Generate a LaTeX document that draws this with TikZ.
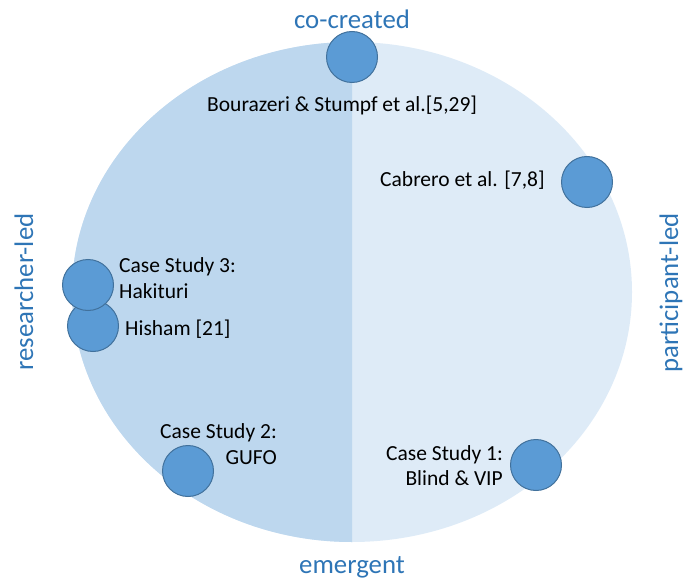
\documentclass[tikz,border=0pt]{standalone}
\usepackage{fontspec}
\setmainfont{Carlito}
\definecolor{darkhalf}{HTML}{BDD7EE}
\definecolor{lighthalf}{HTML}{DEEBF7}
\definecolor{dotfill}{HTML}{5B9BD5}
\definecolor{dotline}{HTML}{41719C}
\definecolor{axisblue}{HTML}{2E75B6}
\begin{document}
\begin{tikzpicture}[x=1pt,y=-1pt,
  dot/.style={circle,fill=dotfill,draw=dotline,line width=1pt,minimum size=51pt,inner sep=0pt},
  lbl/.style={font=\fontsize{21.5}{25}\selectfont,inner sep=0pt,text=black},
  axis/.style={font=\fontsize{26.8}{30}\selectfont,text=axisblue,inner sep=0pt}]
\useasboundingbox (0,0) rectangle (685,580);
% ellipse halves
\fill[lighthalf] (352,292) ellipse [x radius=280, y radius=250];
\begin{scope}
  \clip (0,0) rectangle (352,580);
  \fill[darkhalf] (352,292) ellipse [x radius=280, y radius=250];
\end{scope}
% axis labels
\node[axis,anchor=base] (cc) at (352,29) {co-created};
\node[axis,anchor=base] (em) at (352,573) {emergent};
\node[axis,rotate=90,anchor=base] (rl) at (33,292) {researcher-led};
\node[axis,rotate=90,anchor=base] (pl) at (678,293) {participant-led};
% dots
\node[dot] (d1) at (352,57) {};
\node[dot] (d2) at (587,182) {};
\node[dot] (d4) at (93,326) {};
\node[dot] (d3) at (88,285) {};
\node[dot] (d5) at (188,471) {};
\node[dot] (d6) at (536,465) {};
% labels
\node[lbl,anchor=base west] (t1) at (207,112) {Bourazeri \& Stumpf et al.[5,29]};
\node[lbl,anchor=base west] (t2) at (380,186) {Cabrero et al. [7,8]};
\node[lbl,anchor=base west] (t3a) at (119,272) {Case Study 3:};
\node[lbl,anchor=base west] (t3b) at (119,298) {Hakituri};
\node[lbl,anchor=base west] (t4) at (125,335) {Hisham [21]};
\node[lbl,anchor=base east] (t5a) at (277,438) {Case Study 2:};
\node[lbl,anchor=base east] (t5b) at (277,464) {GUFO};
\node[lbl,anchor=base east] (t6a) at (503,460) {Case Study 1:};
\node[lbl,anchor=base east] (t6b) at (503,485) {Blind \& VIP};
\end{tikzpicture}
\end{document}
